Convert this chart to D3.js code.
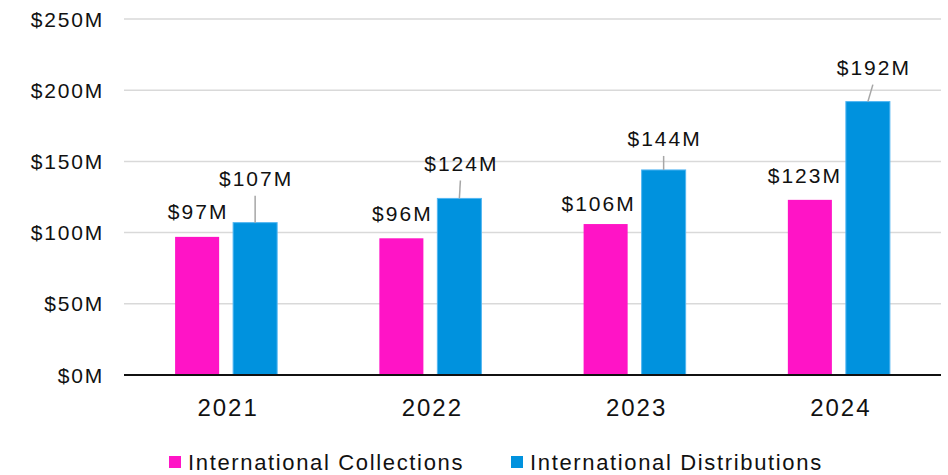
<!DOCTYPE html>
<html>
<head>
<meta charset="utf-8">
<script src="https://cdn.jsdelivr.net/npm/d3@7"></script>
<style>
  html, body { margin: 0; padding: 0; background: #ffffff; }
  svg { display: block; }
  text { font-family: "Liberation Sans", Arial, sans-serif; fill: #111; }
</style>
</head>
<body>
<svg id="chart" width="948" height="475"></svg>
<script>
// ---- data ----
const years = ["2021", "2022", "2023", "2024"];
const seriesNames = ["International Collections", "International Distributions"];
const collections = [97, 96, 106, 123];
const distributions = [107, 124, 144, 192];
const yTicks = [0, 50, 100, 150, 200, 250];
const tickLabels = ["$0M", "$50M", "$100M", "$150M", "$200M", "$250M"];
const colors = ["#FF14C6", "#0092DE"];

// label layout (dx, dy of label centre relative to bar top centre)
const collLabelOffset = [[0, -25], [0, -25], [-8, -21], [-6, -24]];
const distLabelOffset = [[0, -44], [1, -35], [0, -31], [5, -34]];

const svg = d3.select("#chart");
const plotL = 124, plotR = 941, plotT = 19, plotB = 375;

const x0 = d3.scaleBand().domain(years).range([plotL, plotR]).padding(0);
const x1 = d3.scaleBand().domain(seriesNames).range([0, x0.bandwidth()])
  .paddingInner(0.241).paddingOuter(0.881);
const y = d3.scaleLinear().domain([0, 250]).range([plotB, plotT]);

// gridlines
svg.append("g").selectAll("line").data(yTicks.filter(d => d > 0)).join("line")
  .attr("x1", plotL).attr("x2", plotR)
  .attr("y1", d => y(d)).attr("y2", d => y(d))
  .attr("stroke", "#d9d9d9").attr("stroke-width", 1.5);

// y tick labels
svg.append("g").selectAll("text").data(yTicks).join("text")
  .attr("x", 104).attr("y", d => y(d))
  .attr("text-anchor", "end").attr("dominant-baseline", "central")
  .attr("font-size", 21).attr("letter-spacing", 1.8)
  .text((d, i) => tickLabels[i]);

const seriesData = [collections, distributions];

// bars
seriesData.forEach((vals, si) => {
  svg.append("g").selectAll("rect").data(vals).join("rect")
    .attr("x", (d, i) => x0(years[i]) + x1(seriesNames[si]))
    .attr("y", d => y(d))
    .attr("width", x1.bandwidth())
    .attr("height", d => plotB - y(d))
    .attr("fill", colors[si])
    .attr("stroke", si === 1 ? "#52b6f2" : "none")
    .attr("stroke-width", si === 1 ? 1 : 0);
});

// x axis baseline
svg.append("line").attr("x1", plotL).attr("x2", plotR)
  .attr("y1", plotB).attr("y2", plotB)
  .attr("stroke", "#111").attr("stroke-width", 2);

// year labels
svg.append("g").selectAll("text").data(years).join("text")
  .attr("x", d => x0(d) + x0.bandwidth() / 2 + 2)
  .attr("y", 416)
  .attr("text-anchor", "middle")
  .attr("font-size", 24).attr("letter-spacing", 2)
  .text(d => d);

// data labels
const fmt = v => "$" + v + "M";
seriesData.forEach((vals, si) => {
  const offs = si === 0 ? collLabelOffset : distLabelOffset;
  vals.forEach((v, i) => {
    const cx = x0(years[i]) + x1(seriesNames[si]) + x1.bandwidth() / 2;
    const ty = y(v);
    const lx = cx + offs[i][0], ly = ty + offs[i][1];
    if (si === 1) {
      svg.append("line")
        .attr("x1", lx).attr("y1", ly + 17)
        .attr("x2", cx).attr("y2", ty)
        .attr("stroke", "#a6a6a6").attr("stroke-width", 1.5);
    }
    svg.append("text")
      .attr("x", lx + 1).attr("y", ly)
      .attr("text-anchor", "middle").attr("dominant-baseline", "central")
      .attr("font-size", 21).attr("letter-spacing", 2)
      .text(fmt(v));
  });
});

// legend
const legendX = [169, 511];
seriesNames.forEach((name, si) => {
  svg.append("rect").attr("x", legendX[si]).attr("y", 456)
    .attr("width", 12).attr("height", 12).attr("fill", colors[si]);
  svg.append("text").attr("x", legendX[si] + 19).attr("y", 470)
    .attr("font-size", 22).attr("letter-spacing", 1.65)
    .text(name);
});
</script>
</body>
</html>
